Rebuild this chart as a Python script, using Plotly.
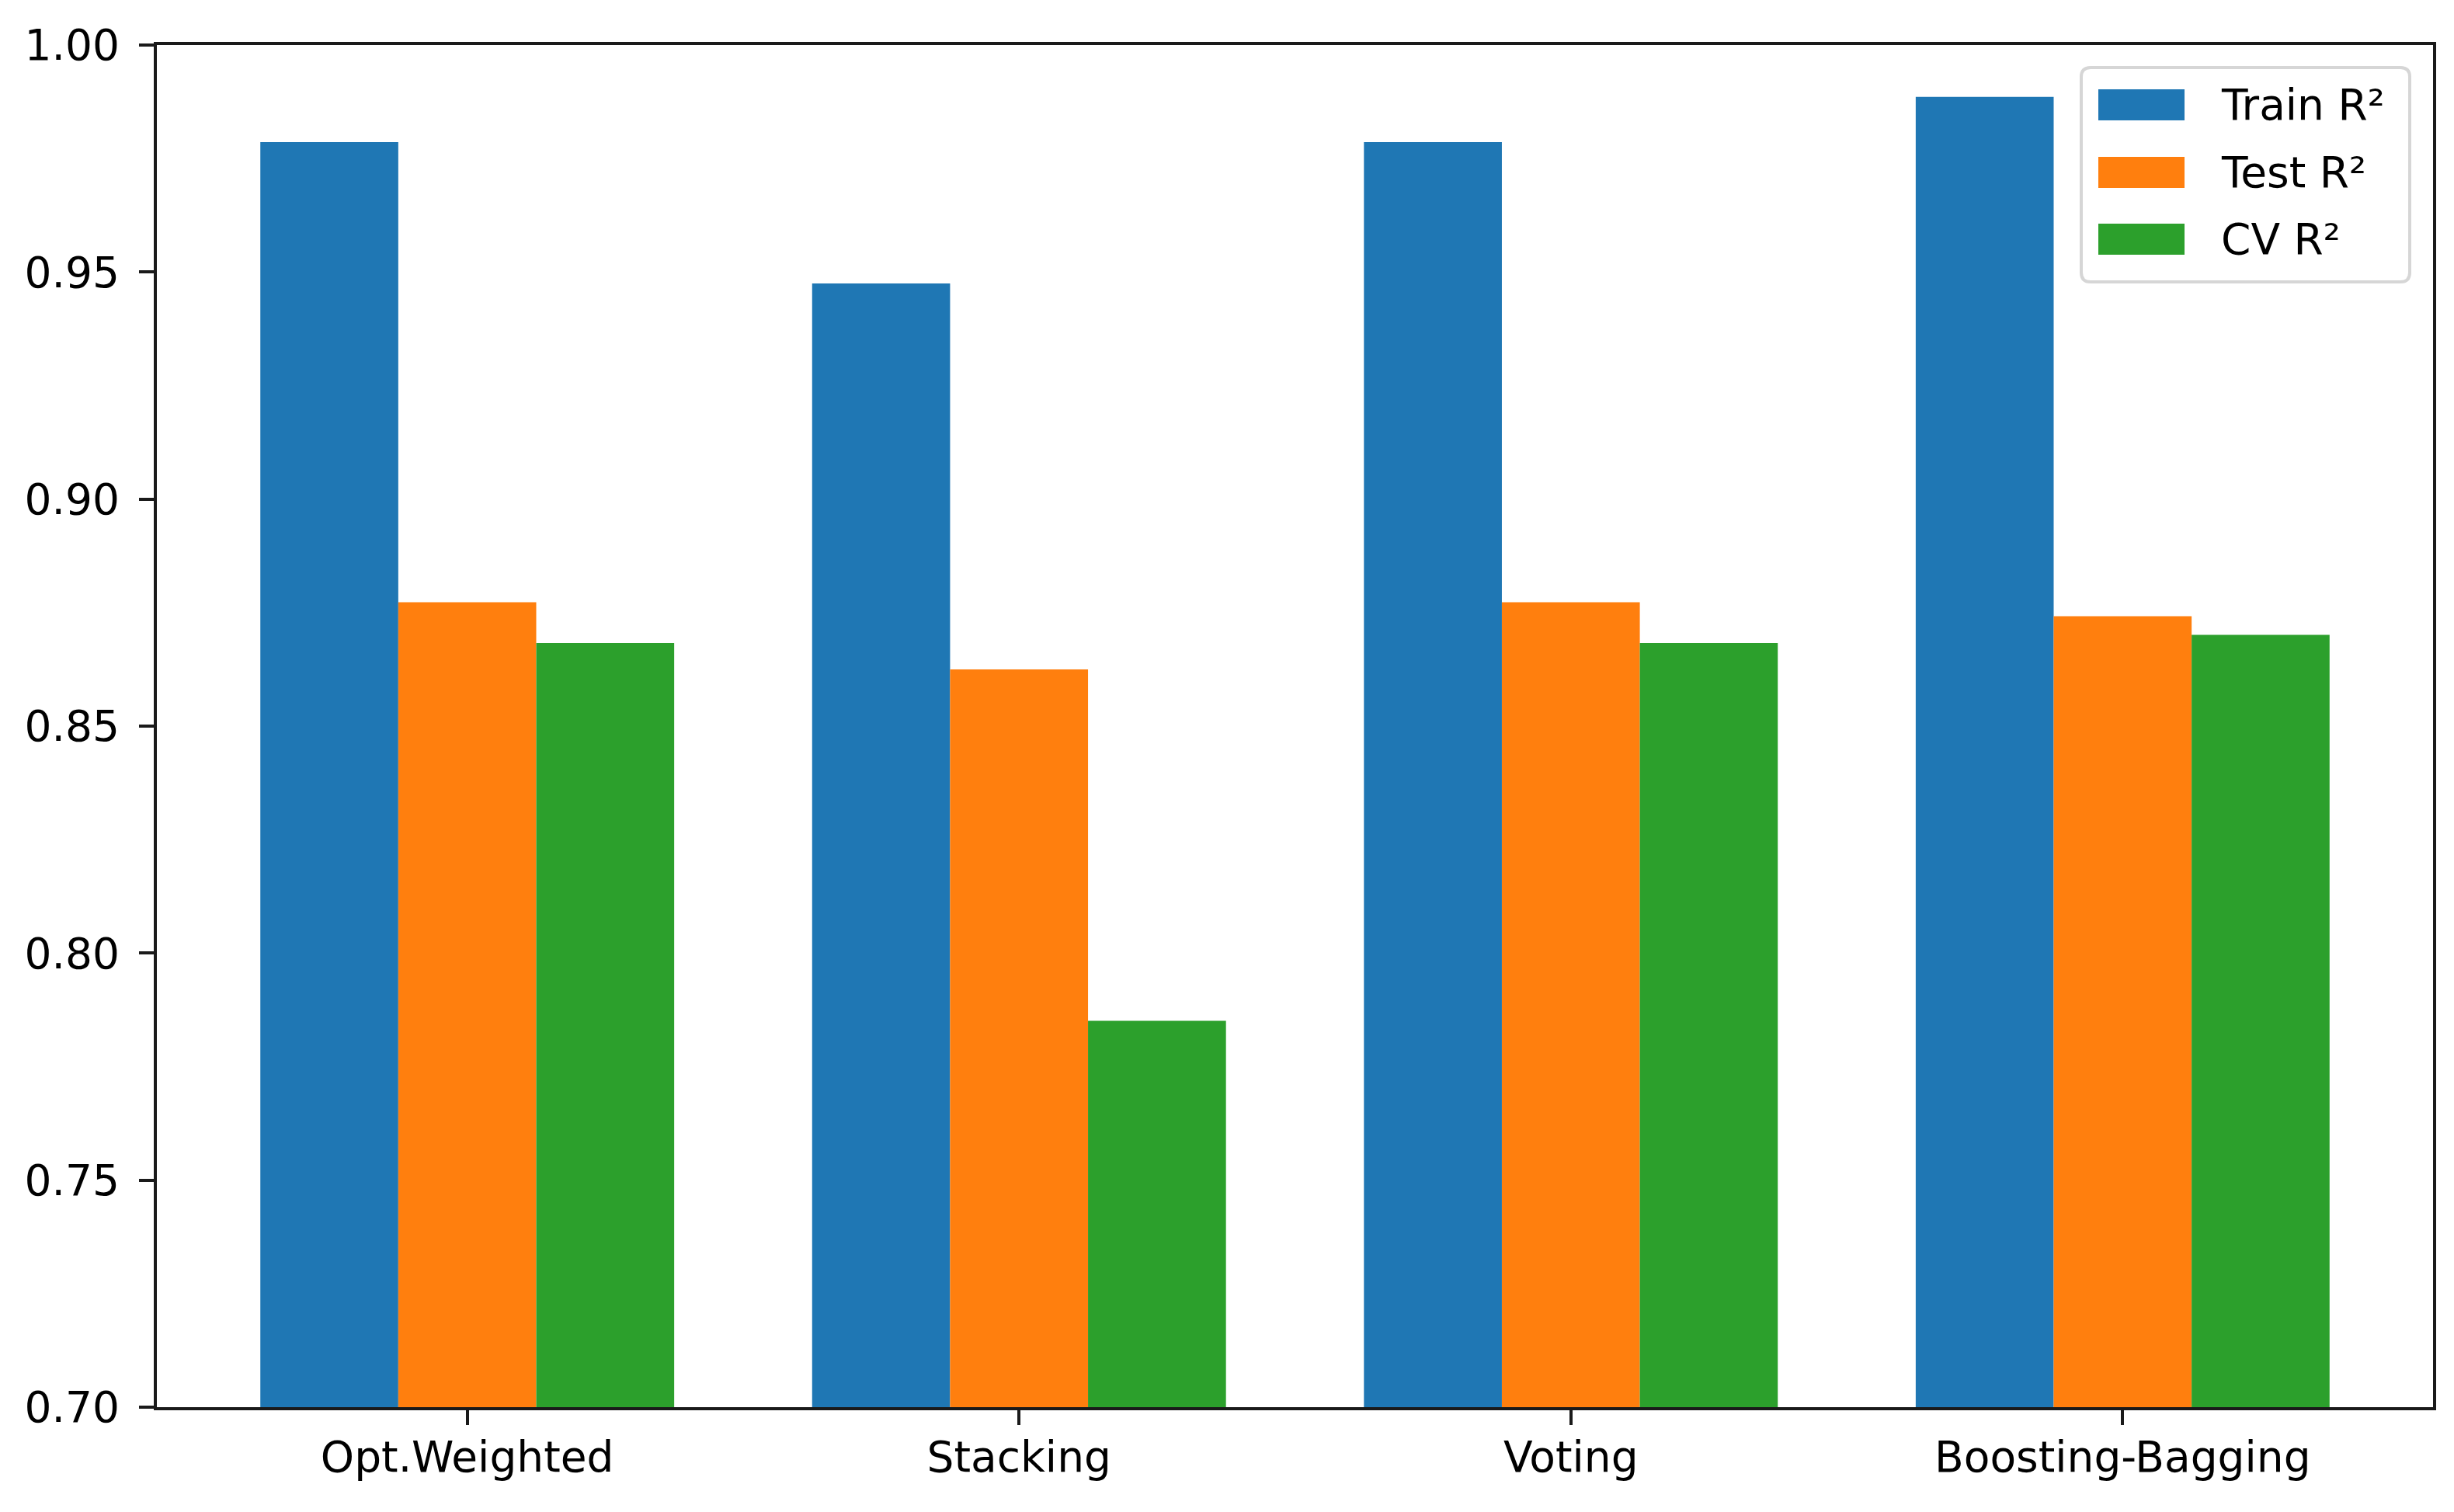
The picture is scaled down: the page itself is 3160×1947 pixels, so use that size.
import plotly.graph_objects as go

categories = ["Opt.Weighted", "Stacking", "Voting", "Boosting-Bagging"]
train_r2 = [0.9786, 0.9475, 0.9786, 0.9886]
test_r2 = [0.8773, 0.8625, 0.8773, 0.8742]
cv_r2 = [0.8683, 0.7851, 0.8683, 0.8701]
series_names = ["Train R²", "Test R²", "CV R²"]
colors = ["#1f77b4", "#ff7f0e", "#2ca02c"]
y_ticks = [0.70, 0.75, 0.80, 0.85, 0.90, 0.95, 1.00]

OFF = 8  # browser default body margin
PAGE_W, PAGE_H = 3160, 1947
W, H = PAGE_W - 2 * OFF, PAGE_H - 2 * OFF
# plot area in page pixel coordinates
PX0, PX1, PY0, PY1 = 202, 3133, 58, 1812
L, T = PX0 - OFF, PY0 - OFF
R = W - L - (PX1 - PX0)
B = H - T - (PY1 - PY0)
FONT = "DejaVu Sans"
FS = 55

fig = go.Figure()
for name, vals, col in zip(series_names, [train_r2, test_r2, cv_r2], colors):
    fig.add_trace(go.Bar(x=categories, y=vals, name=name, marker=dict(color=col, line=dict(width=0)),
                         showlegend=False))

fig.update_layout(
    width=W, height=H,
    margin=dict(l=L, r=R, t=T, b=B, autoexpand=False),
    paper_bgcolor="white", plot_bgcolor="white",
    barmode="group", bargap=0.25, bargroupgap=0,
    font=dict(family=FONT, size=FS, color="black"),
)
fig.update_xaxes(
    range=[-0.5625, 3.5625], showline=True, linecolor="#1a1a1a", linewidth=4, mirror=True,
    ticks="outside", ticklen=19, tickwidth=4, tickcolor="#1a1a1a", ticklabelstandoff=-6,
    showgrid=False, zeroline=False, tickfont=dict(family=FONT, size=FS, color="black"),
)
fig.update_yaxes(
    range=[0.70, 1.00], tickvals=y_ticks, ticktext=[f"{v:.2f}" for v in y_ticks],
    showline=True, linecolor="#1a1a1a", linewidth=4, mirror=True,
    ticks="outside", ticklen=19, tickwidth=4, tickcolor="#1a1a1a", ticklabelstandoff=14,
    showgrid=False, zeroline=False, tickfont=dict(family=FONT, size=FS, color="black"),
)

# custom legend (matplotlib style), positions given in page pixels
pw, ph = PX1 - PX0, PY1 - PY0
def px(x): return (x - PX0) / pw
def py(y): return (PY1 - y) / ph

x0, x1, y0, y1 = 2680, 3103, 87, 363
r = 12
rx, ry = r / pw, r / ph
X0, X1, Y0, Y1 = px(x0), px(x1), py(y1), py(y0)
path = (f"M{X0+rx},{Y0} L{X1-rx},{Y0} Q{X1},{Y0} {X1},{Y0+ry} L{X1},{Y1-ry} Q{X1},{Y1} {X1-rx},{Y1} "
        f"L{X0+rx},{Y1} Q{X0},{Y1} {X0},{Y1-ry} L{X0},{Y0+ry} Q{X0},{Y0} {X0+rx},{Y0} Z")
fig.add_shape(type="path", xref="paper", yref="paper", path=path,
              fillcolor="rgba(255,255,255,0.8)", line=dict(color="#d6d6d6", width=4), layer="above")
row_centers = [135, 222, 308]
for name, col, yc in zip(series_names, colors, row_centers):
    fig.add_shape(type="rect", xref="paper", yref="paper",
                  x0=px(2702), x1=px(2813), y0=py(yc + 20), y1=py(yc - 20),
                  fillcolor=col, line=dict(width=0), layer="above")
    fig.add_annotation(xref="paper", yref="paper", x=px(2858), y=py(yc), text=name,
                       showarrow=False, xanchor="left", yanchor="middle",
                       font=dict(family=FONT, size=FS, color="black"))

fig.write_html("out.html")
